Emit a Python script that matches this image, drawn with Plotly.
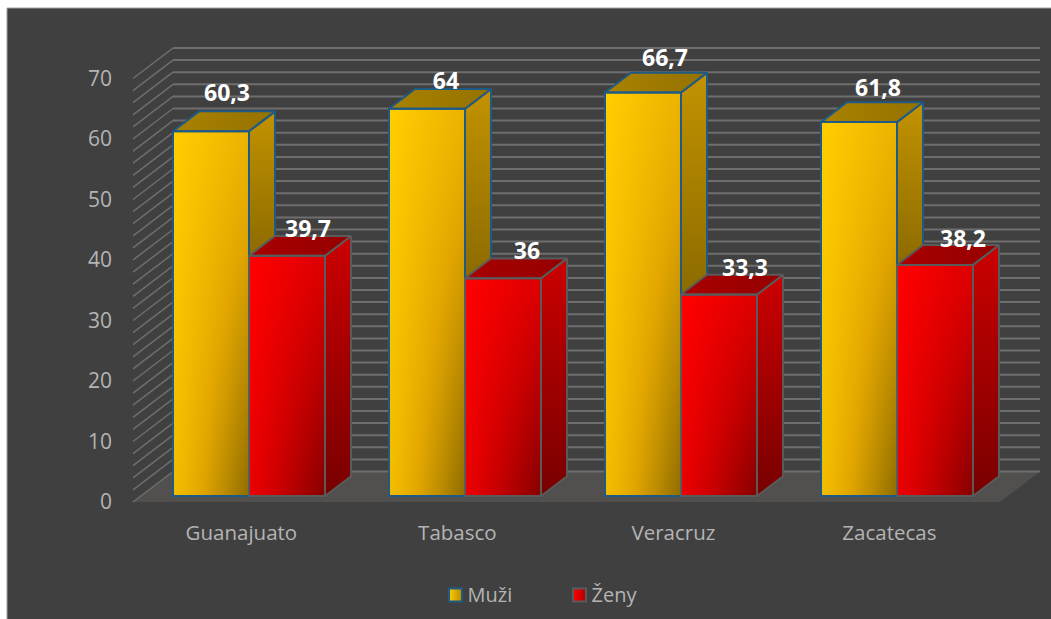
"""3D style clustered column chart: Muži / Ženy by state."""

import numpy as np
import plotly.graph_objects as go

# data
categories = ["Guanajuato", "Tabasco", "Veracruz", "Zacatecas"]
muzi = [60.3, 64, 66.7, 61.8]
zeny = [39.7, 36, 33.3, 38.2]
muzi_labels = ["60,3", "64", "66,7", "61,8"]
zeny_labels = ["39,7", "36", "33,3", "38,2"]
y_ticks = [0, 10, 20, 30, 40, 50, 60, 70]

# figure geometry in pixels
WIDTH, HEIGHT = 1051, 619
PLOT_L, PLOT_R, PLOT_T, PLOT_B = 115, 1048, 30, 514
ZERO_X, ZERO_Y = 133, 502     # front corner of the floor
PX_CAT, PX_VAL = 216.75, 6.05  # pixels per category / per value unit

# depth of the box, in data units
DEPTH_X = 40 / PX_CAT
DEPTH_Y = 30.5 / PX_VAL
BAR_PAD = 32 / PX_CAT
BAR_W = 76 / PX_CAT
BAR_STEP = 216 / PX_CAT
BAR_D0, BAR_D1 = 0.2, 0.85
GRID_TOP = 70

# hand placed data labels: pixel nudges from the top of each column
MUZI_NUDGE = [(24, 42), (27, 32), (30, 38), (27, 38)]
ZENY_NUDGE = [(29, 31), (32, 31), (34, 30), (36, 30)]

TEXT = "#b4b4b4"
GRID = "#6e6e6e"
FONT = "Open Sans"

STYLE = {
    "muzi": dict(
        edge="#1f5a86",
        front=[[0, "#ffcc00"], [0.45, "#e2a600"], [1, "#967100"]],
        side=["#8c6b00", "#c29200"],
        top=["#a98200", "#957200"],
    ),
    "zeny": dict(
        edge="#5a5a5a",
        front=[[0, "#ff0000"], [0.45, "#cc0000"], [1, "#8a0000"]],
        side=["#780000", "#cc0000"],
        top=["#a80000", "#960000"],
    ),
}


def proj(x, y, d):
    """Move a front-plane point d of the way to the back wall."""
    return x + d * DEPTH_X, y + d * DEPTH_Y


def polygon(points, edge, colors=None, orient="vertical", width=2):
    xs = [p[0] for p in points] + [points[0][0]]
    ys = [p[1] for p in points] + [points[0][1]]
    trace = go.Scatter(
        x=xs, y=ys, mode="lines", line=dict(color=edge, width=width),
        hoverinfo="skip", showlegend=False,
    )
    if colors:
        trace.fill = "toself"
        trace.fillgradient = dict(
            type=orient,
            colorscale=[[0, colors[0]], [1, colors[1]]],
        )
    return trace


def front_shade(x0, x1, y0, y1, scale):
    """Heatmap used only to paint the diagonal sheen of a bar front."""
    u = np.linspace(0, 1, 12)
    v = np.linspace(1, 0, 30)
    uu, vv = np.meshgrid(u, v)
    shade = 0.3 * uu + 0.2 * vv + 0.5 * (uu * vv) ** 1.2
    return go.Heatmap(
        x=np.linspace(x0, x1, 13), y=np.linspace(y0, y1, 31), z=shade,
        zmin=0, zmax=1, zsmooth="best", colorscale=scale, showscale=False,
        hoverinfo="skip",
    )


fig = go.Figure()

# floor, back wall grid and left wall lines sit under every trace
floor = [(0, 0), (4, 0), proj(4, 0, 1), proj(0, 0, 1)]
fig.add_shape(
    type="path", layer="below", xref="x", yref="y", line_width=0, fillcolor="#524f4f",
    path="M " + " L ".join(f"{x},{y}" for x, y in floor) + " Z",
)
for v in range(0, GRID_TOP + 1, 2):
    bx, by = proj(0, v, 1)
    ex, ey = proj(4, v, 1)
    fig.add_shape(type="line", layer="below", xref="x", yref="y", x0=0, y0=v, x1=bx, y1=by,
                  line=dict(color=GRID, width=1.5))
    fig.add_shape(type="line", layer="below", xref="x", yref="y", x0=bx, y0=by, x1=ex, y1=ey,
                  line=dict(color=GRID, width=2))

base = (ZERO_Y - 496) / PX_VAL - BAR_D0 * DEPTH_Y

# columns
for i in range(len(categories)):
    left = i * BAR_STEP + BAR_PAD
    for k, (key, values) in enumerate((("muzi", muzi), ("zeny", zeny))):
        st = STYLE[key]
        top = base + values[i]
        x0 = left + k * BAR_W
        x1 = x0 + BAR_W
        fl = proj(x0, top, BAR_D0)
        fr = proj(x1, top, BAR_D0)
        bl = proj(x0, top, BAR_D1)
        br = proj(x1, top, BAR_D1)
        lo = proj(x1, base, BAR_D0)
        lo_back = proj(x1, base, BAR_D1)
        fig.add_trace(front_shade(fl[0], fr[0], lo[1], fl[1], st["front"]))

        # the men's side face stops where the women's front starts
        if key == "muzi":
            cut = base + zeny[i] + BAR_D0 * DEPTH_Y
            side = [fr, br, (br[0], cut), (fr[0], cut)]
        else:
            side = [fr, br, lo_back, lo]
        fig.add_trace(polygon(side, st["edge"], st["side"]))
        fig.add_trace(polygon([fl, fr, br, bl], st["edge"], st["top"], orient="horizontal"))
        fig.add_trace(polygon([(fl[0], lo[1]), (lo[0], lo[1]), fr, fl], st["edge"]))

# data labels
series = ((muzi, muzi_labels, MUZI_NUDGE), (zeny, zeny_labels, ZENY_NUDGE))
for k, (values, labels, nudge) in enumerate(series):
    fig.add_trace(go.Scatter(
        x=[i * BAR_STEP + BAR_PAD + (k + 0.5) * BAR_W + nudge[i][0] / PX_CAT
           for i in range(len(categories))],
        y=[base + v + nudge[i][1] / PX_VAL for i, v in enumerate(values)],
        text=labels, mode="text", hoverinfo="skip", showlegend=False,
        textposition="middle center",
        textfont=dict(family=FONT, size=23, color="white", weight="bold"),
    ))

# legend keys drawn on their own full-figure axes
for name, px_x, gradient in (("Muži", 455.5, ("#ffcc00", "#b88c00", "#1f5a86")),
                             ("Ženy", 579.5, ("#ff0000", "#b00000", "#5a5a5a"))):
    fig.add_trace(go.Scatter(
        x=[px_x], y=[HEIGHT - 595], xaxis="x2", yaxis="y2", name=name,
        mode="markers",
        marker=dict(symbol="square", size=13, color=gradient[0],
                    gradient=dict(type="horizontal", color=gradient[1]),
                    line=dict(color=gradient[2], width=2)),
        hoverinfo="name", showlegend=False,
    ))
    fig.add_trace(go.Scatter(
        x=[px_x + 12], y=[HEIGHT - 597], xaxis="x2", yaxis="y2",
        mode="text", text=[name], textposition="middle right",
        textfont=dict(family=FONT, size=20, color=TEXT),
        hoverinfo="skip", showlegend=False,
    ))

fig.update_layout(
    width=WIDTH, height=HEIGHT,
    margin=dict(l=0, r=0, t=0, b=0),
    autosize=False,
    paper_bgcolor="white",
    plot_bgcolor="rgba(0,0,0,0)",
    font=dict(family=FONT, size=20, color=TEXT),
    showlegend=False,
    xaxis=dict(
        domain=[PLOT_L / WIDTH, PLOT_R / WIDTH],
        range=[(PLOT_L - ZERO_X) / PX_CAT, (PLOT_R - ZERO_X) / PX_CAT],
        tickmode="array",
        tickvals=[i * BAR_STEP + 0.5 for i in range(len(categories))],
        ticktext=categories,
        tickfont=dict(size=20.5),
        ticklabelstandoff=4,
        showgrid=False, zeroline=False, showline=False, ticks="",
    ),
    yaxis=dict(
        domain=[(HEIGHT - PLOT_B) / HEIGHT, (HEIGHT - PLOT_T) / HEIGHT],
        range=[(ZERO_Y - PLOT_B) / PX_VAL, (ZERO_Y - PLOT_T) / PX_VAL],
        tickmode="array",
        tickvals=y_ticks,
        tickfont=dict(size=21),
        ticklabelstandoff=2,
        showgrid=False, zeroline=False, showline=False, ticks="",
    ),
    xaxis2=dict(domain=[0, 1], range=[0, WIDTH], anchor="y2", visible=False),
    yaxis2=dict(domain=[0, 1], range=[0, HEIGHT], anchor="x2", visible=False),
)

# dark chart area with its thin grey frame
fig.add_shape(type="rect", layer="below", xref="paper", yref="paper",
              x0=7 / WIDTH, x1=1.01, y0=-0.01, y1=(HEIGHT - 8) / HEIGHT,
              fillcolor="#404040", line=dict(color="#a0a0a0", width=1))

fig.write_html(
    "out.html",
    config=dict(displayModeBar=False),
    post_script="document.body.style.margin = '0';",
)
